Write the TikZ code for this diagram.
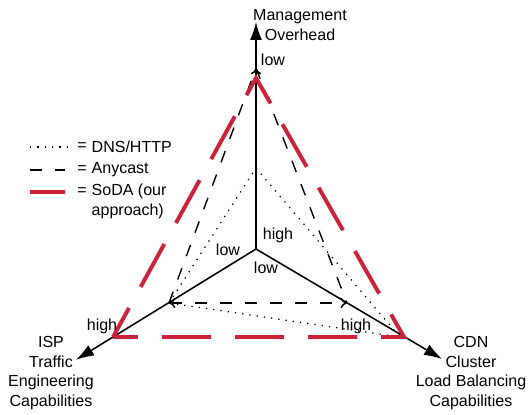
\documentclass[tikz,border=0pt]{standalone}
\usepackage{fontspec}
\setmainfont{Liberation Sans}
\usetikzlibrary{arrows.meta}
\definecolor{sodared}{RGB}{203,33,57}

\begin{document}
\begin{tikzpicture}[font=\fontsize{11.4}{14}\selectfont, inner sep=1pt,
	axisline/.style={line width=1.1pt},
	bigtip/.style={-{Latex[length=4.5mm,width=3mm]}},
	dns/.style={line width=0.9pt, dash pattern=on 0.9pt off 4.3pt},
	anycast/.style={line width=1pt, dash pattern=on 0.3cm off 0.325cm},
	soda/.style={sodared, line width=2.8pt, dash pattern=on 1.225cm off 0.6cm, dash phase=0.6cm}]
	\useasboundingbox (-6.4,-4.15) rectangle (6.825,6.225);

	% axes
	\coordinate (o) at (0,0);
	\coordinate (mT) at (0,5.675);
	\coordinate (iL) at (-4.5,-2.77);
	\coordinate (cR) at (4.65,-2.75);

	% corners of the three triangles
	\coordinate (sT) at (0,4.275);
	\coordinate (sL) at (-3.575,-2.2);
	\coordinate (sR) at (3.7,-2.2);
	\coordinate (aT) at (0,4.525);
	\coordinate (aL) at (-2.175,-1.35);
	\coordinate (aR) at (2.275,-1.35);
	\coordinate (dT) at (0,2.025);
	\coordinate (dR) at (3.6,-2.2);

	\draw [axisline, -{To[length=1.6mm,width=2.6mm]}] (o) -- (aT);
	\draw [axisline, bigtip] (aT) -- (mT);
	\draw [axisline, bigtip] (o) -- (iL);
	\draw [axisline, bigtip] (o) -- (cR);

	% DNS/HTTP
	\draw [dns] (aL) -- (dT) -- (dR) -- cycle;
	% Anycast
	\draw [anycast] (aL) -- (aT) -- (aR);
	\draw [anycast, {To[length=1.6mm,width=2.6mm]}-{To[length=1.6mm,width=2.6mm]}] (aL) -- (aR);
	% SoDA
	\draw [soda] (sL) -- (sR) -- (sT) -- cycle;

	% axis labels
	\node [align=center] (mgmt) at (1.1,5.6) {Management\\Overhead};
	\node [align=center] (isp) at (-5.125,-3.1) {ISP\\Traffic\\Engineering\\Capabilities};
	\node [align=center] (cdn) at (5.375,-3.1) {CDN\\Cluster\\Load Balancing\\Capabilities};

	\node (lowM) at (0.425,4.725) {low};
	\node (highM) at (0.55,0.35) {high};
	\node (lowI) at (-0.7,-0.025) {low};
	\node (highI) at (-3.85,-1.925) {high};
	\node (lowC) at (0.25,-0.475) {low};
	\node (highC) at (2.5,-1.925) {high};

	% legend
	\draw [dns] (-5.65,2.55) -- (-4.65,2.55);
	\draw [anycast] (-5.65,1.975) -- (-4.775,1.975);
	\draw [sodared, line width=2.8pt] (-5.65,1.425) -- (-4.775,1.425);
	\node (eqD) at (-4.35,2.55) {=};
	\node (eqA) at (-4.35,1.975) {=};
	\node (eqS) at (-4.35,1.425) {=};
	\node [anchor=west] (legD) at (-4.15,2.55) {DNS/HTTP};
	\node [anchor=west] (legA) at (-4.15,1.975) {Anycast};
	\node [anchor=west, align=left] (legS) at (-4.15,1.19) {SoDA (our\\approach)};
\end{tikzpicture}
\end{document}
